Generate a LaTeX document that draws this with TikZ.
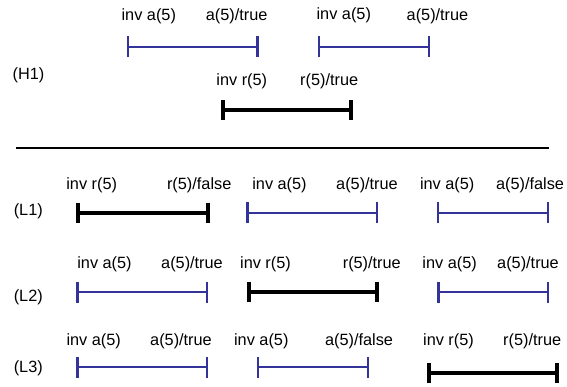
\documentclass[tikz,border=0pt]{standalone}
\usepackage{fontspec}
\setmainfont{Liberation Sans}
\usetikzlibrary{arrows.meta}
\definecolor{segblue}{RGB}{51,51,153}
\tikzset{
  lbl/.style={inner sep=0pt, font=\fontsize{16.3}{19}\selectfont},
  blueseg/.style={draw=segblue, line width=2pt,
    {Bar[width=21pt,line width=2.5pt]}-{Bar[width=21pt,line width=2.5pt]}},
  blackseg/.style={draw=black, line width=4pt,
    {Bar[width=20pt,line width=4pt]}-{Bar[width=20pt,line width=4pt]}},
  sep/.style={draw=black, line width=2.3pt}
}
\begin{document}
\begin{tikzpicture}[x=1pt,y=-1pt]
\useasboundingbox (0,0) rectangle (567,386);
% ---------- H1 ----------
\node[lbl] (h1) at (28.5,75) {(H1)};
\coordinate (h1a1) at (126.5,46.7); \coordinate (h1b1) at (258.7,46.7);
\coordinate (h1a2) at (317.7,46.7); \coordinate (h1b2) at (430,46.7);
\coordinate (h1r1) at (220.7,110); \coordinate (h1r2) at (353.3,110);
\draw[blueseg] (h1a1) -- (h1b1);
\draw[blueseg] (h1a2) -- (h1b2);
\draw[blackseg] (h1r1) -- (h1r2);
\node[lbl] (t1) at (148.8,16) {inv a(5)};
\node[lbl] (t2) at (236.7,16) {a(5)/true};
\node[lbl] (t3) at (343.8,15) {inv a(5)};
\node[lbl] (t4) at (437.5,16) {a(5)/true};
\node[lbl] (t5) at (241.8,81) {inv r(5)};
\node[lbl] (t6) at (329.2,81) {r(5)/true};
% ---------- separator ----------
\coordinate (s1) at (16,148.3); \coordinate (s2) at (548.5,148.3);
\draw[sep] (s1) -- (s2);
% ---------- L1 ----------
\node[lbl] (l1) at (28.3,211.7) {(L1)};
\coordinate (l1r1) at (76,212.7); \coordinate (l1r2) at (210,212.7);
\coordinate (l1a1) at (246,212.7); \coordinate (l1b1) at (378.3,212.7);
\coordinate (l1a2) at (436.7,212.7); \coordinate (l1b2) at (549.3,212.7);
\draw[blackseg] (l1r1) -- (l1r2);
\draw[blueseg] (l1a1) -- (l1b1);
\draw[blueseg] (l1a2) -- (l1b2);
\node[lbl] (u1) at (91.7,185) {inv r(5)};
\node[lbl] (u2) at (199.2,185) {r(5)/false};
\node[lbl] (u3) at (279.5,185) {inv a(5)};
\node[lbl] (u4) at (367,185) {a(5)/true};
\node[lbl] (u5) at (447.2,185) {inv a(5)};
\node[lbl] (u6) at (530,185) {a(5)/false};
% ---------- L2 ----------
\node[lbl] (l2) at (28.3,297.3) {(L2)};
\coordinate (l2a1) at (76.3,292.3); \coordinate (l2b1) at (208.3,292.3);
\coordinate (l2r1) at (246.7,292.3); \coordinate (l2r2) at (379,292.3);
\coordinate (l2a2) at (437.3,292.3); \coordinate (l2b2) at (549.3,292.3);
\draw[blueseg] (l2a1) -- (l2b1);
\draw[blackseg] (l2r1) -- (l2r2);
\draw[blueseg] (l2a2) -- (l2b2);
\node[lbl] (v1) at (104.5,264) {inv a(5)};
\node[lbl] (v2) at (192,264) {a(5)/true};
\node[lbl] (v3) at (265.5,264) {inv r(5)};
\node[lbl] (v4) at (371.8,264) {r(5)/true};
\node[lbl] (v5) at (449.6,264) {inv a(5)};
\node[lbl] (v6) at (528,264) {a(5)/true};
% ---------- L3 ----------
\node[lbl] (l3) at (28.3,368.3) {(L3)};
\coordinate (l3a1) at (76.3,367.3); \coordinate (l3b1) at (208.3,367.3);
\coordinate (l3a2) at (256.7,367.3); \coordinate (l3b2) at (369,367.3);
\coordinate (l3r1) at (427.3,373.3); \coordinate (l3r2) at (559.3,373.3);
\draw[blueseg] (l3a1) -- (l3b1);
\draw[blueseg] (l3a2) -- (l3b2);
\draw[blackseg] (l3r1) -- (l3r2);
\node[lbl] (w1) at (93.7,341) {inv a(5)};
\node[lbl] (w2) at (181,341) {a(5)/true};
\node[lbl] (w3) at (261.3,341) {inv a(5)};
\node[lbl] (w4) at (359,341) {a(5)/false};
\node[lbl] (w5) at (448.5,341) {inv r(5)};
\node[lbl] (w6) at (532.2,341) {r(5)/true};
\end{tikzpicture}
\end{document}
